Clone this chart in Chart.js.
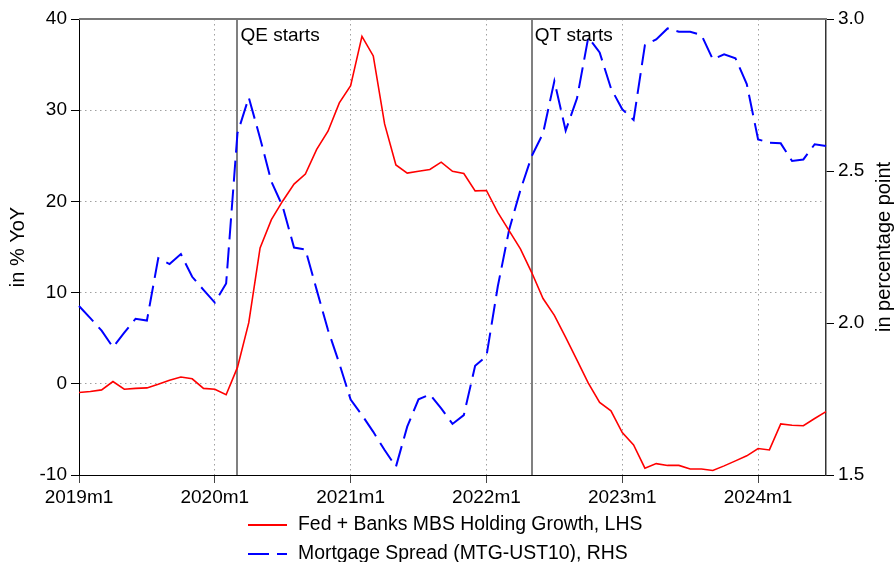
<!DOCTYPE html>
<html><head><meta charset="utf-8">
<script src="https://cdn.jsdelivr.net/npm/chart.js@4"></script>
<style>html,body{margin:0;padding:0;background:#fff;}canvas{display:block;}</style>
</head><body>
<canvas id="c" width="896" height="562"></canvas>
<script>
// Categories: monthly, 2019m1 .. 2024m7
const months = [];
for (let y = 2019; y <= 2024; y++) {
  for (let m = 1; m <= 12; m++) {
    if (y === 2024 && m > 7) break;
    months.push(y + 'm' + m);
  }
}

// Fed + Banks MBS Holding Growth (% YoY, left axis)
const mbsGrowth = [
  -0.95, -0.85, -0.67, 0.25, -0.6, -0.5, -0.45, -0.05, 0.4, 0.75, 0.55, -0.5,
  -0.6, -1.2, 1.8, 6.7, 14.9, 18.0, 20.05, 21.9, 23.0, 25.7, 27.7, 30.8,
  32.7, 38.1, 35.95, 28.5, 24.0, 23.1, 23.3, 23.5, 24.3, 23.3, 23.05, 21.15,
  21.2, 18.8, 16.8, 14.8, 12.2, 9.35, 7.5, 5.1, 2.6, 0.07, -2.05, -2.97,
  -5.35, -6.7, -9.25, -8.75, -8.95, -8.95, -9.35, -9.35, -9.5, -9.0, -8.45, -7.9,
  -7.1, -7.25, -4.4, -4.55, -4.6, -3.8, -3.05
];

// Mortgage Spread MTG-UST10 (percentage points, right axis)
const mortgageSpread = [
  2.056, 2.016, 1.975, 1.92, 1.968, 2.014, 2.008, 2.213, 2.194, 2.227, 2.152, 2.109,
  2.067, 2.13, 2.624, 2.742, 2.608, 2.465, 2.383, 2.248, 2.242, 2.109, 1.977, 1.867,
  1.748, 1.697, 1.642, 1.582, 1.527, 1.659, 1.749, 1.765, 1.719, 1.668, 1.697, 1.859,
  1.891, 2.12, 2.306, 2.437, 2.549, 2.624, 2.796, 2.633, 2.739, 2.94, 2.89, 2.772,
  2.703, 2.668, 2.914, 2.933, 2.969, 2.958, 2.958, 2.947, 2.867, 2.884, 2.871, 2.786,
  2.604, 2.593, 2.591, 2.533, 2.538, 2.588, 2.582
];

const leftTicks = [-10, 0, 10, 20, 30, 40];
const rightTicks = [1.5, 2.0, 2.5, 3.0];
const eventMonths = ['2020m3', '2022m5'];
const eventLabels = ['QE starts', 'QT starts'];
const seriesNames = ['Fed + Banks MBS Holding Growth, LHS', 'Mortgage Spread (MTG-UST10), RHS'];
const axisTitles = ['in % YoY', 'in percentage point'];

const FAMILY = '"Liberation Sans", Arial, sans-serif';
const FONT = '19px ' + FAMILY;
const TITLE_FONT = '20px ' + FAMILY;
const LEGEND_FONT = '19.4px ' + FAMILY;
const GRID = '#a0a0a0';
const CLEAR = 'rgba(0,0,0,0)';

const deco = {
  id: 'deco',
  beforeDatasetsDraw(chart) {
    const {ctx, chartArea: a, scales: {x}} = chart;
    ctx.save();
    ctx.strokeStyle = '#808080';
    ctx.lineWidth = 2;
    eventMonths.forEach(m => {
      const px = Math.round(x.getPixelForValue(months.indexOf(m)));
      ctx.beginPath(); ctx.moveTo(px, a.top); ctx.lineTo(px, a.bottom); ctx.stroke();
    });
    ctx.restore();
  },
  afterDraw(chart) {
    const {ctx, chartArea: a, scales: {x}} = chart;
    ctx.save();
    // top frame
    ctx.strokeStyle = '#777';
    ctx.lineWidth = 2;
    ctx.beginPath(); ctx.moveTo(a.left, a.top); ctx.lineTo(a.right + 1, a.top); ctx.stroke();
    // event labels
    ctx.fillStyle = '#000';
    ctx.font = FONT;
    ctx.textAlign = 'left';
    ctx.textBaseline = 'middle';
    eventMonths.forEach((m, i) => {
      const px = x.getPixelForValue(months.indexOf(m));
      ctx.fillText(eventLabels[i], px + 3, a.top + 17);
    });
    // axis titles (both read bottom-to-top)
    const mid = (a.top + a.bottom) / 2;
    ctx.font = TITLE_FONT;
    ctx.textAlign = 'center';
    ctx.save(); ctx.translate(18, mid); ctx.rotate(-Math.PI / 2); ctx.fillText(axisTitles[0], 0, 0); ctx.restore();
    ctx.save(); ctx.translate(884, mid); ctx.rotate(-Math.PI / 2); ctx.fillText(axisTitles[1], 0, 0); ctx.restore();
    // legend
    ctx.font = LEGEND_FONT;
    ctx.textAlign = 'left';
    ctx.lineWidth = 2;
    ctx.strokeStyle = '#ff0000';
    ctx.beginPath(); ctx.moveTo(248, 525); ctx.lineTo(287, 525); ctx.stroke();
    ctx.fillText(seriesNames[0], 298, 525);
    ctx.strokeStyle = '#0000ff';
    ctx.setLineDash([21, 8]);
    ctx.beginPath(); ctx.moveTo(248, 554); ctx.lineTo(287, 554); ctx.stroke();
    ctx.setLineDash([]);
    ctx.fillText(seriesNames[1], 298, 554);
    ctx.restore();
  }
};

new Chart(document.getElementById('c'), {
  type: 'line',
  data: {
    labels: months,
    datasets: [
      { label: seriesNames[0], data: mbsGrowth, yAxisID: 'y', borderColor: '#ff0000', borderWidth: 1.6,
        pointRadius: 0, tension: 0, fill: false },
      { label: seriesNames[1], data: mortgageSpread, yAxisID: 'y1', borderColor: '#0000ff', borderWidth: 2,
        borderDash: [21, 8], pointRadius: 0, tension: 0, fill: false }
    ]
  },
  options: {
    responsive: false,
    animation: false,
    layout: { padding: { top: 19, left: 0, right: 0, bottom: 0 } },
    plugins: { legend: { display: false }, tooltip: { enabled: false } },
    scales: {
      x: {
        type: 'category', offset: false,
        ticks: {
          autoSkip: false, maxRotation: 0, minRotation: 0, color: '#000', padding: 3,
          font: { family: FAMILY, size: 19 },
          callback: (v, i) => months[i].endsWith('m1') ? months[i] : ''
        },
        grid: {
          color: c => (c.index > 0 && months[c.index] && months[c.index].endsWith('m1')) ? GRID : CLEAR,
          tickColor: c => (months[c.index] && months[c.index].endsWith('m1')) ? '#444' : CLEAR,
          tickLength: 8, lineWidth: 1
        },
        border: { color: '#000', width: 1, dash: [1.5, 3.5] },
        afterFit(s) { s.height = 87; }
      },
      y: {
        position: 'left', min: leftTicks[0], max: leftTicks[leftTicks.length - 1],
        afterBuildTicks(s) { s.ticks = leftTicks.map(v => ({ value: v })); },
        ticks: { color: '#000', padding: 4, font: { family: FAMILY, size: 19 } },
        grid: {
          color: c => (c.tick && (c.tick.value === leftTicks[0] || c.tick.value === leftTicks[leftTicks.length - 1])) ? CLEAR : GRID,
          tickColor: '#000', tickLength: 8, lineWidth: 1
        },
        border: { color: '#000', width: 1, dash: [1.5, 3.5] },
        afterFit(s) { s.width = 79; }
      },
      y1: {
        position: 'right', min: rightTicks[0], max: rightTicks[rightTicks.length - 1],
        afterBuildTicks(s) { s.ticks = rightTicks.map(v => ({ value: v })); },
        ticks: { color: '#000', padding: 4, font: { family: FAMILY, size: 19 }, callback: v => Number(v).toFixed(1) },
        grid: { drawOnChartArea: false, tickColor: '#000', tickLength: 8, lineWidth: 1 },
        border: { color: '#333', width: 1.5 },
        afterFit(s) { s.width = 70; }
      }
    }
  },
  plugins: [deco]
});
</script>
</body></html>
